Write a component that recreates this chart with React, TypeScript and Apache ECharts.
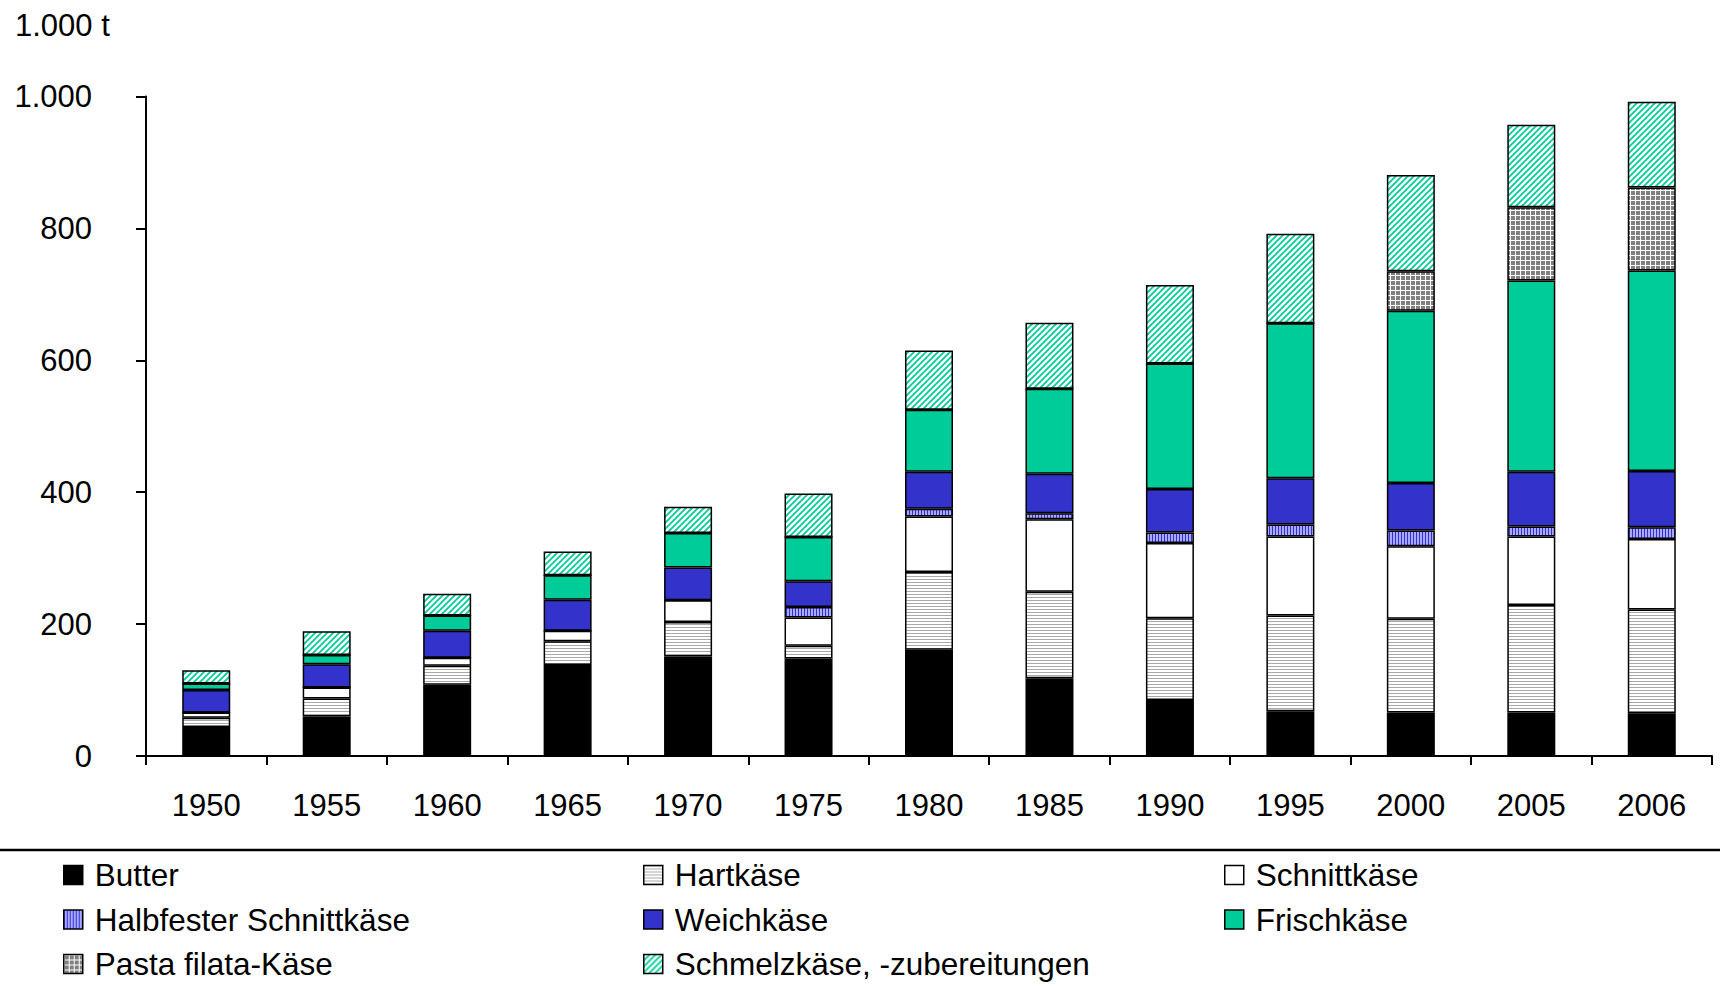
import React, { useEffect, useRef } from "react";
import * as echarts from "echarts";

const years = ["1950", "1955", "1960", "1965", "1970", "1975", "1980", "1985", "1990", "1995", "2000", "2005", "2006"];
const butter = [44, 60, 108, 138, 151, 148, 161, 118, 85, 68, 66, 66, 65];
const hartkaese = [14, 27, 29, 36, 52, 19, 118, 131, 124, 145, 142, 163, 157];
const schnittkaese = [8, 17, 12, 16, 33, 43, 84, 110, 114, 120, 110, 104, 107];
const halbfester = [0, 0, 0, 0, 0, 16, 12, 9, 16, 18, 24, 15, 18];
const weichkaese = [34, 35, 41, 47, 50, 39, 56, 60, 66, 70, 72, 83, 85];
const frischkaese = [10, 14, 23, 37, 52, 67, 94, 129, 190, 235, 261, 290, 304];
const pastaFilata = [0, 0, 0, 0, 0, 0, 0, 0, 0, 0, 60, 111, 126];
const schmelzkaese = [20, 36, 33, 36, 40, 66, 90, 100, 119, 136, 146, 125, 130];

const yTicks = [0, 200, 400, 600, 800, 1000];

const FONT = "'Liberation Sans', Arial, Helvetica, sans-serif";

function makePattern(w: number, h: number, draw: (ctx: CanvasRenderingContext2D) => void) {
  const c = document.createElement("canvas");
  c.width = w;
  c.height = h;
  const ctx = c.getContext("2d")!;
  draw(ctx);
  return { image: c, repeat: "repeat" as const };
}

export default function App() {
  const ref = useRef<HTMLDivElement>(null);

  useEffect(() => {
    if (!ref.current) return;
    const chart = echarts.init(ref.current, undefined, { renderer: "svg" });

    const hartPat = makePattern(4, 3, (ctx) => {
      ctx.fillStyle = "#ffffff";
      ctx.fillRect(0, 0, 4, 3);
      ctx.fillStyle = "#a8a8a8";
      ctx.fillRect(0, 0, 4, 1);
    });
    const halbPat = makePattern(3, 4, (ctx) => {
      ctx.fillStyle = "#a8a8ff";
      ctx.fillRect(0, 0, 3, 4);
      ctx.fillStyle = "#3333cc";
      ctx.fillRect(0, 0, 1, 4);
    });
    const pastaPat = makePattern(5, 5, (ctx) => {
      ctx.fillStyle = "#808080";
      ctx.fillRect(0, 0, 5, 5);
      ctx.fillStyle = "#ffffff";
      ctx.fillRect(0, 0, 5, 1);
      ctx.fillRect(0, 0, 1, 5);
    });
    const schmelzPat = makePattern(6, 6, (ctx) => {
      ctx.fillStyle = "#ffffff";
      ctx.fillRect(0, 0, 6, 6);
      ctx.strokeStyle = "#00cc99";
      ctx.lineWidth = 1.8;
      ctx.beginPath();
      ctx.moveTo(-1, 7);
      ctx.lineTo(7, -1);
      ctx.moveTo(-7, 7);
      ctx.lineTo(1, -1);
      ctx.moveTo(5, 7);
      ctx.lineTo(13, -1);
      ctx.stroke();
    });

    const seriesDefs: { name: string; data: number[]; color: any }[] = [
      { name: "Butter", data: butter, color: "#000000" },
      { name: "Hartkäse", data: hartkaese, color: hartPat },
      { name: "Schnittkäse", data: schnittkaese, color: "#ffffff" },
      { name: "Halbfester Schnittkäse", data: halbfester, color: halbPat },
      { name: "Weichkäse", data: weichkaese, color: "#3333cc" },
      { name: "Frischkäse", data: frischkaese, color: "#00cc99" },
      { name: "Pasta filata-Käse", data: pastaFilata, color: pastaPat },
      { name: "Schmelzkäse, -zubereitungen", data: schmelzkaese, color: schmelzPat },
    ];

    const legendCommon = {
      orient: "vertical" as const,
      top: 859,
      height: 127,
      padding: 0,
      itemWidth: 19,
      itemHeight: 19,
      itemGap: 12.5,
      icon: "rect",
      selectedMode: false,
      itemStyle: { borderColor: "#000000", borderWidth: 1.5 },
      textStyle: { fontSize: 31.5, fontFamily: FONT, color: "#000", lineHeight: 31, padding: [0, 0, 0, 7] },
    };

    chart.setOption({
      animation: false,
      backgroundColor: "#ffffff",
      title: {
        text: "1.000 t",
        left: 10,
        top: 5,
        textStyle: { fontSize: 31, fontWeight: "normal", fontFamily: FONT, color: "#000" },
      },
      grid: { left: 146, right: 8, top: 96.5, bottom: 230, containLabel: false },
      legend: [
        { ...legendCommon, left: 63, data: ["Butter", "Halbfester Schnittkäse", "Pasta filata-Käse"] },
        { ...legendCommon, left: 643, data: ["Hartkäse", "Weichkäse", "Schmelzkäse, -zubereitungen"] },
        { ...legendCommon, left: 1224, data: ["Schnittkäse", "Frischkäse"] },
      ],
      xAxis: {
        type: "category",
        data: years,
        axisLine: { lineStyle: { color: "#000", width: 2 } },
        axisTick: { show: true, length: 9, lineStyle: { color: "#000", width: 2 } },
        axisLabel: { fontSize: 31, fontFamily: FONT, color: "#000", margin: 34 },
        splitLine: { show: false },
      },
      yAxis: {
        type: "value",
        min: yTicks[0],
        max: yTicks[yTicks.length - 1],
        interval: 200,
        axisLine: { show: true, lineStyle: { color: "#000", width: 2 } },
        axisTick: { show: true, length: 10, lineStyle: { color: "#000", width: 2 } },
        axisLabel: {
          fontSize: 31,
          fontFamily: FONT,
          color: "#000",
          margin: 54,
          formatter: (v: number) => (v >= 1000 ? (v / 1000).toFixed(0) + "." + String(v % 1000).padStart(3, "0") : String(v)),
        },
        splitLine: { show: false },
      },
      graphic: [
        {
          type: "line",
          shape: { x1: 0, y1: 850, x2: 1720, y2: 850 },
          style: { stroke: "#000", lineWidth: 2.5 },
        },
      ],
      series: seriesDefs.map((s) => ({
        name: s.name,
        type: "bar",
        stack: "total",
        data: s.data,
        barWidth: 48,
        itemStyle: { color: s.color, borderColor: "#000000", borderWidth: 1.5 },
        emphasis: { disabled: true },
      })),
    });

    return () => chart.dispose();
  }, []);

  return (
    <div
      ref={ref}
      style={{ position: "fixed", left: 0, top: 0, width: "1720px", height: "986px", background: "#fff" }}
    />
  );
}
